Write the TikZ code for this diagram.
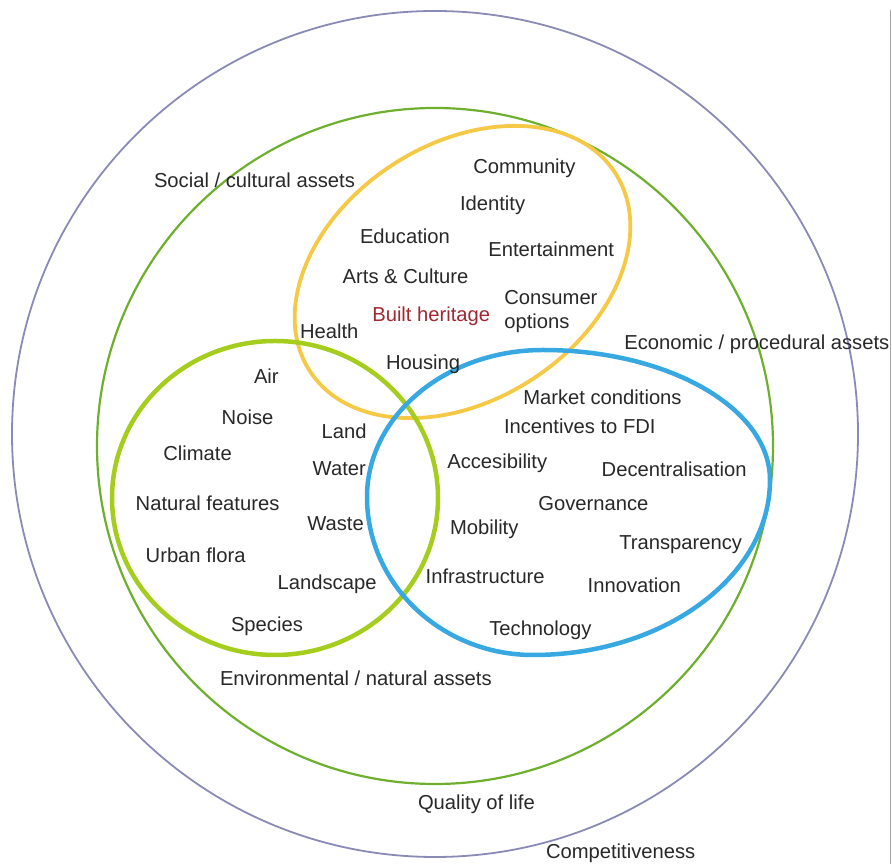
\documentclass[tikz,border=0pt]{standalone}
\usepackage{fontspec}
\setmainfont{Liberation Sans}
\definecolor{ringouter}{RGB}{138,138,182}
\definecolor{ringqol}{RGB}{110,175,45}
\definecolor{ringenv}{RGB}{165,205,30}
\definecolor{ringsoc}{RGB}{245,200,70}
\definecolor{ringeco}{RGB}{55,168,225}
\definecolor{heritage}{RGB}{160,40,50}
\definecolor{txt}{RGB}{40,40,40}
\definecolor{edge}{RGB}{165,165,165}
\begin{document}
\begin{tikzpicture}[x=1pt,y=1pt,
  lbl/.style={anchor=base west, inner sep=0pt, outer sep=0pt, text=txt,
              font=\fontsize{20.2}{23.3}\selectfont},
  redlbl/.style={lbl, text=heritage}]
\useasboundingbox (0,0) rectangle (892,864);

% thin rule along the right edge
\coordinate (edgetop) at (890.5,854);
\coordinate (edgebot) at (890.5,0);
\draw[edge, line width=1.4pt] (edgetop) -- (edgebot);

% competitiveness and quality of life rings
\draw[ringouter, line width=1.8pt] (435,430) circle[radius=423];
\draw[ringqol, line width=2.2pt] (435,418) circle[radius=338];

% social / cultural assets
\draw[ringsoc, line width=3.8pt] (462.5,592) ellipse[x radius=182, y radius=128, rotate=33];

% environmental / natural assets
\draw[ringenv, line width=4.5pt] (275,366) ellipse[x radius=163, y radius=157];

% economic / procedural assets (slightly egg shaped)
\draw[ringeco, line width=4.5pt] (543,514)
  arc[start angle=90, end angle=0, x radius=227, y radius=130]
  arc[start angle=0, end angle=-90, x radius=237, y radius=175]
  arc[start angle=-90, end angle=-180, x radius=166, y radius=158]
  arc[start angle=180, end angle=90, x radius=176, y radius=147] -- cycle;

% group titles
\node[lbl] (social) at (154,676) {Social / cultural assets};
\node[lbl] (economic) at (624.3,514) {Economic / procedural assets};
\node[lbl] (environmental) at (220,178) {Environmental / natural assets};
\node[lbl] (quality) at (418,54) {Quality of life};
\node[lbl] (competitiveness) at (546,5.7) {Competitiveness};

% social / cultural items
\node[lbl] (community) at (473.3,690) {Community};
\node[lbl] (identity) at (460,653.5) {Identity};
\node[lbl] (education) at (360,620) {Education};
\node[lbl] (entertainment) at (488.3,607) {Entertainment};
\node[lbl] (arts) at (342.7,580.7) {Arts \& Culture};
% base anchor of a two-line node sits on its last line
\node[lbl, align=left] (consumer) at (504.3,535.7) {Consumer\\options};
\node[redlbl] (built) at (372.3,542.3) {Built heritage};
\node[lbl] (health) at (300,525) {Health};
\node[lbl] (housing) at (386,494) {Housing};

% environmental / natural items
\node[lbl] (air) at (254,480.7) {Air};
\node[lbl] (noise) at (221.7,439) {Noise};
\node[lbl] (land) at (321.7,425.7) {Land};
\node[lbl] (climate) at (163.3,403.3) {Climate};
\node[lbl] (water) at (312.7,388) {Water};
\node[lbl] (natural) at (135.7,353.3) {Natural features};
\node[lbl] (waste) at (307.3,333.3) {Waste};
\node[lbl] (urban) at (145.7,301.7) {Urban flora};
\node[lbl] (landscape) at (277.7,274) {Landscape};
\node[lbl] (species) at (231,232.3) {Species};

% economic / procedural items
\node[lbl] (market) at (523.3,459.7) {Market conditions};
\node[lbl] (incentives) at (504,430) {Incentives to FDI};
\node[lbl] (access) at (447.3,395.7) {Accesibility};
\node[lbl] (decentral) at (601.7,387.3) {Decentralisation};
\node[lbl] (governance) at (538.3,353.3) {Governance};
\node[lbl] (mobility) at (450,329) {Mobility};
\node[lbl] (transparency) at (619.3,314) {Transparency};
\node[lbl] (infrastructure) at (425.7,280) {Infrastructure};
\node[lbl] (innovation) at (587.7,271.7) {Innovation};
\node[lbl] (technology) at (489.3,228) {Technology};
\end{tikzpicture}
\end{document}
